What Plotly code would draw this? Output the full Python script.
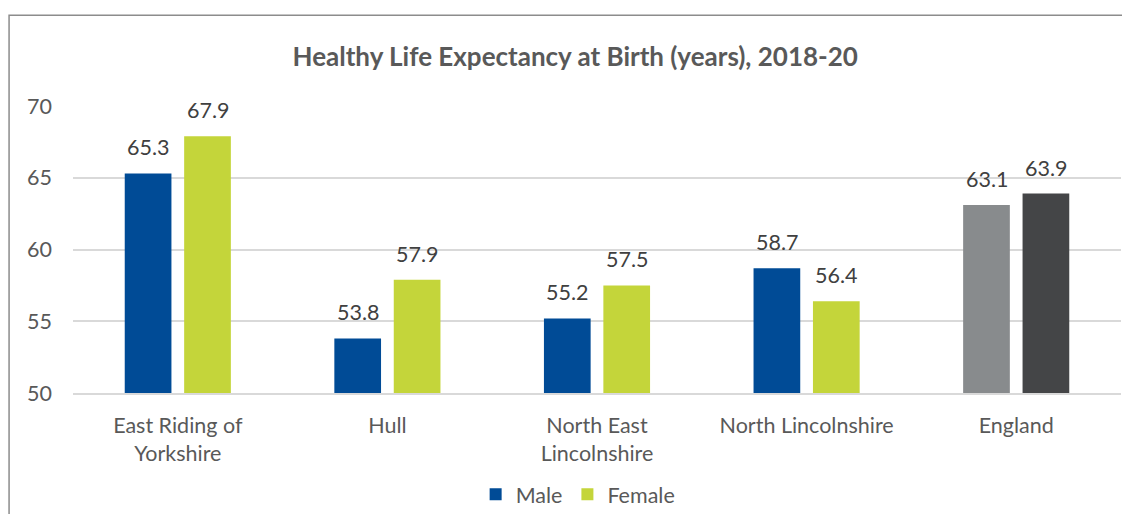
import plotly.graph_objects as go

categories = ["East Riding of<br>Yorkshire", "Hull", "North East<br>Lincolnshire", "North Lincolnshire", "England"]
male = [65.3, 53.8, 55.2, 58.7, 63.1]
female = [67.9, 57.9, 57.5, 56.4, 63.9]
male_colors = ["#004B96", "#004B96", "#004B96", "#004B96", "#888B8D"]
female_colors = ["#C4D53A", "#C4D53A", "#C4D53A", "#C4D53A", "#444547"]

FONT = "Lato, 'Open Sans', sans-serif"
TXT = "#595959"
FS = 21.5

fig = go.Figure()
fig.add_trace(go.Bar(name="Male", x=categories, y=male, marker_color=male_colors,
                     marker_line_width=0))
fig.add_trace(go.Bar(name="Female", x=categories, y=female, marker_color=female_colors,
                     marker_line_width=0))

for vals, xs in ((male, -29.7), (female, 29.7)):
    for c, v in zip(categories, vals):
        fig.add_annotation(x=c, y=v, text=f"{v:.1f}", showarrow=False,
                           xshift=xs, yshift=26, yanchor="middle",
                           font=dict(family=FONT, size=FS, color="#404040"))

fig.add_shape(type="rect", xref="paper", yref="paper",
              x0=-0.061, x1=1.06, y0=-0.6, y1=1.316,
              line=dict(color="#8C8C8C", width=1.5), fillcolor="rgba(0,0,0,0)", layer="below")

fig.update_layout(
    width=1130, height=514,
    margin=dict(l=64.5, r=16.5, t=98, b=129.3, autoexpand=False),
    paper_bgcolor="white", plot_bgcolor="white",
    barmode="group", bargap=0.433, bargroupgap=0.214,
    title=dict(text="<b>Healthy Life Expectancy at Birth (years), 2018-20</b>",
               x=0.502, xanchor="center", y=1 - 49 / 514, yanchor="middle",
               yref="container", font=dict(family=FONT, size=26, color=TXT)),
    font=dict(family=FONT, size=FS, color=TXT),
    legend=dict(orientation="h", x=0.482, xanchor="center", y=-0.353, yanchor="middle",
                font=dict(family=FONT, size=FS, color=TXT), itemwidth=30,
                traceorder="normal"),
    showlegend=True,
)
fig.update_yaxes(range=[50, 70], tickvals=[50, 55, 60, 65, 70], showgrid=True,
                 gridcolor="#D9D9D9", gridwidth=1.5, zeroline=False, automargin=False,
                 ticklabelstandoff=20, tickfont=dict(family=FONT, size=FS, color=TXT))
fig.update_xaxes(showline=True, linecolor="#D9D9D9", linewidth=1.5, ticks="", automargin=False,
                 ticklabelstandoff=12, tickfont=dict(family=FONT, size=FS, color=TXT))

fig.write_html("out.html")
